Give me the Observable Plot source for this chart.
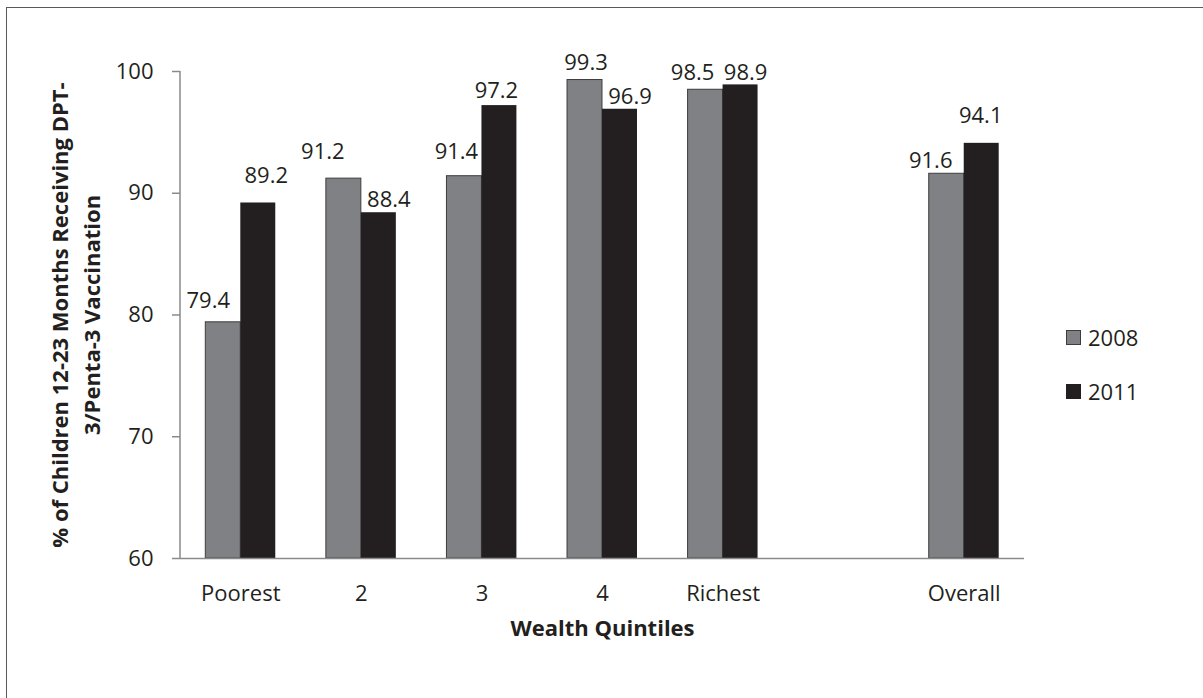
<!DOCTYPE html>
<html>
<head>
<meta charset="utf-8">
<script src="https://cdn.jsdelivr.net/npm/d3@7"></script>
<script src="https://cdn.jsdelivr.net/npm/@observablehq/plot@0.6"></script>
<style>
  body { margin: 0; background: #fff; }
  #fig { position: relative; width: 1203px; height: 698px; overflow: hidden;
         font-family: "Open Sans", sans-serif; color: #231f20; }
  #edge { position: absolute; left: 6px; top: 7px; width: 1400px; height: 900px;
          border-top: 1.5px solid #5a5a5a; border-left: 1.5px solid #5a5a5a; }
  #chart { position: absolute; left: 0; top: 0; }
  .legend { position: absolute; left: 1066px; top: 322px; font-size: 22px; line-height: 30px; }
  .legend .row { display: flex; align-items: center; height: 30px; margin-bottom: 24px; }
  .legend .sw { width: 15px; height: 15px; box-sizing: border-box; margin-right: 7px; }
</style>
</head>
<body>
<div id="fig">
  <div id="edge"></div>
  <div id="chart"></div>
  <div class="legend" id="legend"></div>
</div>
<script>
// Categories along the x axis (the blank one is a spacer before "Overall")
const categories = ["Poorest", "2", "3", "4", "Richest", "", "Overall"];
const groups = ["Poorest", "2", "3", "4", "Richest", "Overall"];
const years = ["2008", "2011"];
const values2008 = [79.4, 91.2, 91.4, 99.3, 98.5, 91.6];
const values2011 = [89.2, 88.4, 97.2, 96.9, 98.9, 94.1];
const yTicks = [60, 70, 80, 90, 100];

// Hand placement of the value labels, [dx, dy] from the top centre of each bar
const nudge2008 = [[-15, -21], [-21, -27], [-8, -24], [1, -17], [-13, -17], [-16, -13]];
const nudge2011 = [[8, -27], [10, -13], [-3, -15], [10, -12], [5, -12], [-1, -27]];

const colors = { "2008": "#808184", "2011": "#231f20" };
const barHalf = 17.5;

const rows = groups.flatMap((g, i) => [
  { cat: g, year: "2008", value: values2008[i], nudge: nudge2008[i] },
  { cat: g, year: "2011", value: values2011[i], nudge: nudge2011[i] }
]);

const labelMarks = rows.map((r) =>
  Plot.text([r], {
    x: "cat", y: "value", text: (d) => d.value.toFixed(1),
    dx: (r.year === "2008" ? -barHalf : barHalf) + r.nudge[0],
    dy: r.nudge[1],
    fontSize: 22, fill: "#231f20"
  })
);

// Vertical axis line from the lowest to the highest tick
const yAxisLine = (index, scales, values, dims) => {
  const ln = document.createElementNS("http://www.w3.org/2000/svg", "line");
  ln.setAttribute("x1", dims.marginLeft);
  ln.setAttribute("x2", dims.marginLeft);
  ln.setAttribute("y1", scales.y(d3.max(yTicks)));
  ln.setAttribute("y2", scales.y(d3.min(yTicks)));
  ln.setAttribute("stroke", "#8a8a8a");
  ln.setAttribute("stroke-width", 1.5);
  return ln;
};

const chart = Plot.plot({
  width: 1203,
  height: 698,
  marginLeft: 180,
  marginRight: 179,
  marginTop: 71,
  marginBottom: 140,
  x: { type: "band", domain: categories, paddingInner: 0.71, paddingOuter: 0.355, round: false, axis: null },
  y: { domain: [60, 100], axis: null },
  style: { fontFamily: "'Open Sans', sans-serif", fontSize: "22px", color: "#231f20", background: "transparent" },
  marks: [
    Plot.barY(rows.filter((d) => d.year === "2008"), {
      x: "cat", y1: 60, y2: "value", dx: -barHalf,
      fill: colors["2008"], stroke: "#3d3d3d", strokeWidth: 1
    }),
    Plot.barY(rows.filter((d) => d.year === "2011"), {
      x: "cat", y1: 60, y2: "value", dx: barHalf,
      fill: colors["2011"]
    }),
    Plot.axisY({ ticks: yTicks, tickSize: 8, tickPadding: 19, stroke: "#8a8a8a", strokeWidth: 1.5,
                 fontSize: 22, fill: "#231f20", label: null }),
    Plot.axisX({ tickSize: 0, tickPadding: 27, fontSize: 22, fill: "#231f20", label: null }),
    Plot.ruleY([60], { stroke: "#8a8a8a", strokeWidth: 1.5 }),
    yAxisLine,
    ...labelMarks,
    Plot.text(["Wealth Quintiles"], {
      frameAnchor: "bottom", dy: 77, fontSize: 22, fontWeight: "bold", fill: "#231f20"
    }),
    Plot.text(["% of Children 12-23 Months Receiving DPT-\n3/Penta-3 Vaccination"], {
      frameAnchor: "left", textAnchor: "middle", rotate: -90, dx: -107, lineHeight: 1.45,
      fontSize: 22, fontWeight: "bold", fill: "#231f20"
    })
  ]
});
document.getElementById("chart").appendChild(chart);

// Legend
const legend = document.getElementById("legend");
years.forEach((y) => {
  const row = document.createElement("div");
  row.className = "row";
  const sw = document.createElement("div");
  sw.className = "sw";
  sw.style.background = colors[y];
  if (y === "2008") sw.style.border = "1px solid #3d3d3d";
  const t = document.createElement("span");
  t.textContent = y;
  row.appendChild(sw);
  row.appendChild(t);
  legend.appendChild(row);
});
</script>
</body>
</html>
